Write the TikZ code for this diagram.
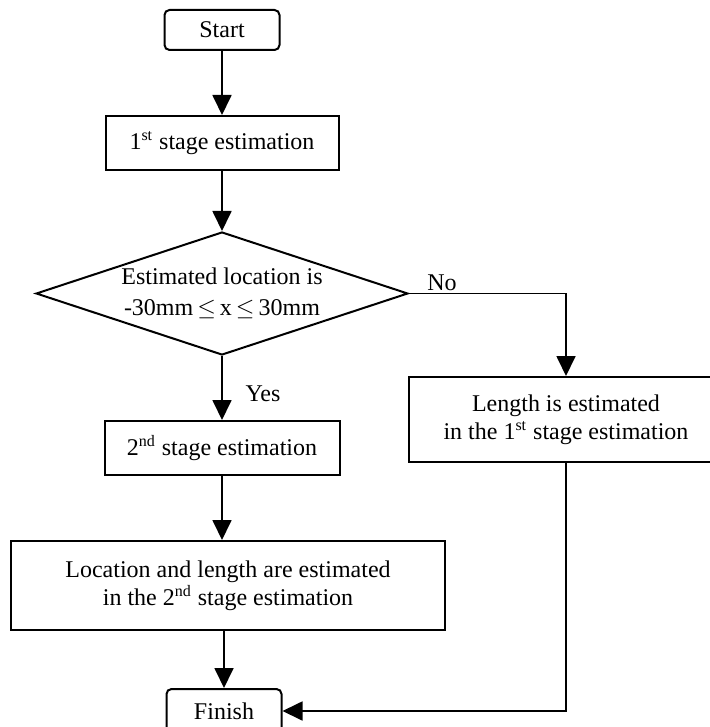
\documentclass[tikz,border=0pt]{standalone}
\usepackage{fontspec}
\setmainfont{Liberation Serif}
\usetikzlibrary{shapes.geometric, arrows.meta, positioning}

\begin{document}
\begin{tikzpicture}[x=0.5pt, y=-0.5pt, font=\fontsize{12}{14}\selectfont]
    \tikzstyle{terminal} = [draw, rectangle, rounded corners=2.5pt, line width=1pt, minimum width=57.5pt, minimum height=20pt, inner sep=0pt]
    \tikzstyle{block} = [draw, rectangle, line width=1pt, align=center, inner sep=0pt]
    \tikzstyle{decision} = [draw, diamond, aspect=3, line width=1pt, align=center, inner sep=0pt, minimum width=186pt, minimum height=61.5pt, font=\fontsize{12}{15.5}\selectfont]
    \tikzstyle{line} = [draw, -{Triangle[length=10pt, width=9.5pt]}, line width=0.9pt]

    \useasboundingbox (0,0) rectangle (710,727);

    \node [terminal] (start) at (222,30) {Start};
    \node [block, below=32pt of start, minimum width=116.5pt, minimum height=27pt] (first) {1\textsuperscript{st} stage estimation};
    \node [decision, below=30pt of first] (check) {Estimated location is\\-30mm\,$\leq$\,x\,$\leq$\,30mm};
    \node [block, below=32pt of check, minimum width=117.5pt, minimum height=27pt] (second) {2\textsuperscript{nd} stage estimation};
    \node [block, below=32pt of second, xshift=3pt, minimum width=217pt, minimum height=44.5pt] (both) {Location and length are estimated\\in the 2\textsuperscript{nd} stage estimation};
    \node [terminal, below=28.5pt of both, xshift=-2pt, minimum height=22pt] (finish) {Finish};

    % length only branch on the right
    \node [block, minimum width=157pt, minimum height=42.5pt] (lenonly) at (566,419.5) {Length is estimated\\in the 1\textsuperscript{st} stage estimation};

    \draw [line] (start) -- (first);
    \draw [line] (first) -- (check);
    \draw [line] (check) -- node [pos=0.59, right, xshift=8pt] {Yes} (second);
    \draw [line] (second) -- (second |- both.north);
    \draw [line] (finish |- both.south) -- (finish);

    % No branch and its return to Finish
    \draw [line] (check.east) -| node [pos=0.105, above, inner sep=1pt] {No} (lenonly.north);
    \draw [line] (lenonly.south) |- (finish.east);
\end{tikzpicture}
\end{document}
